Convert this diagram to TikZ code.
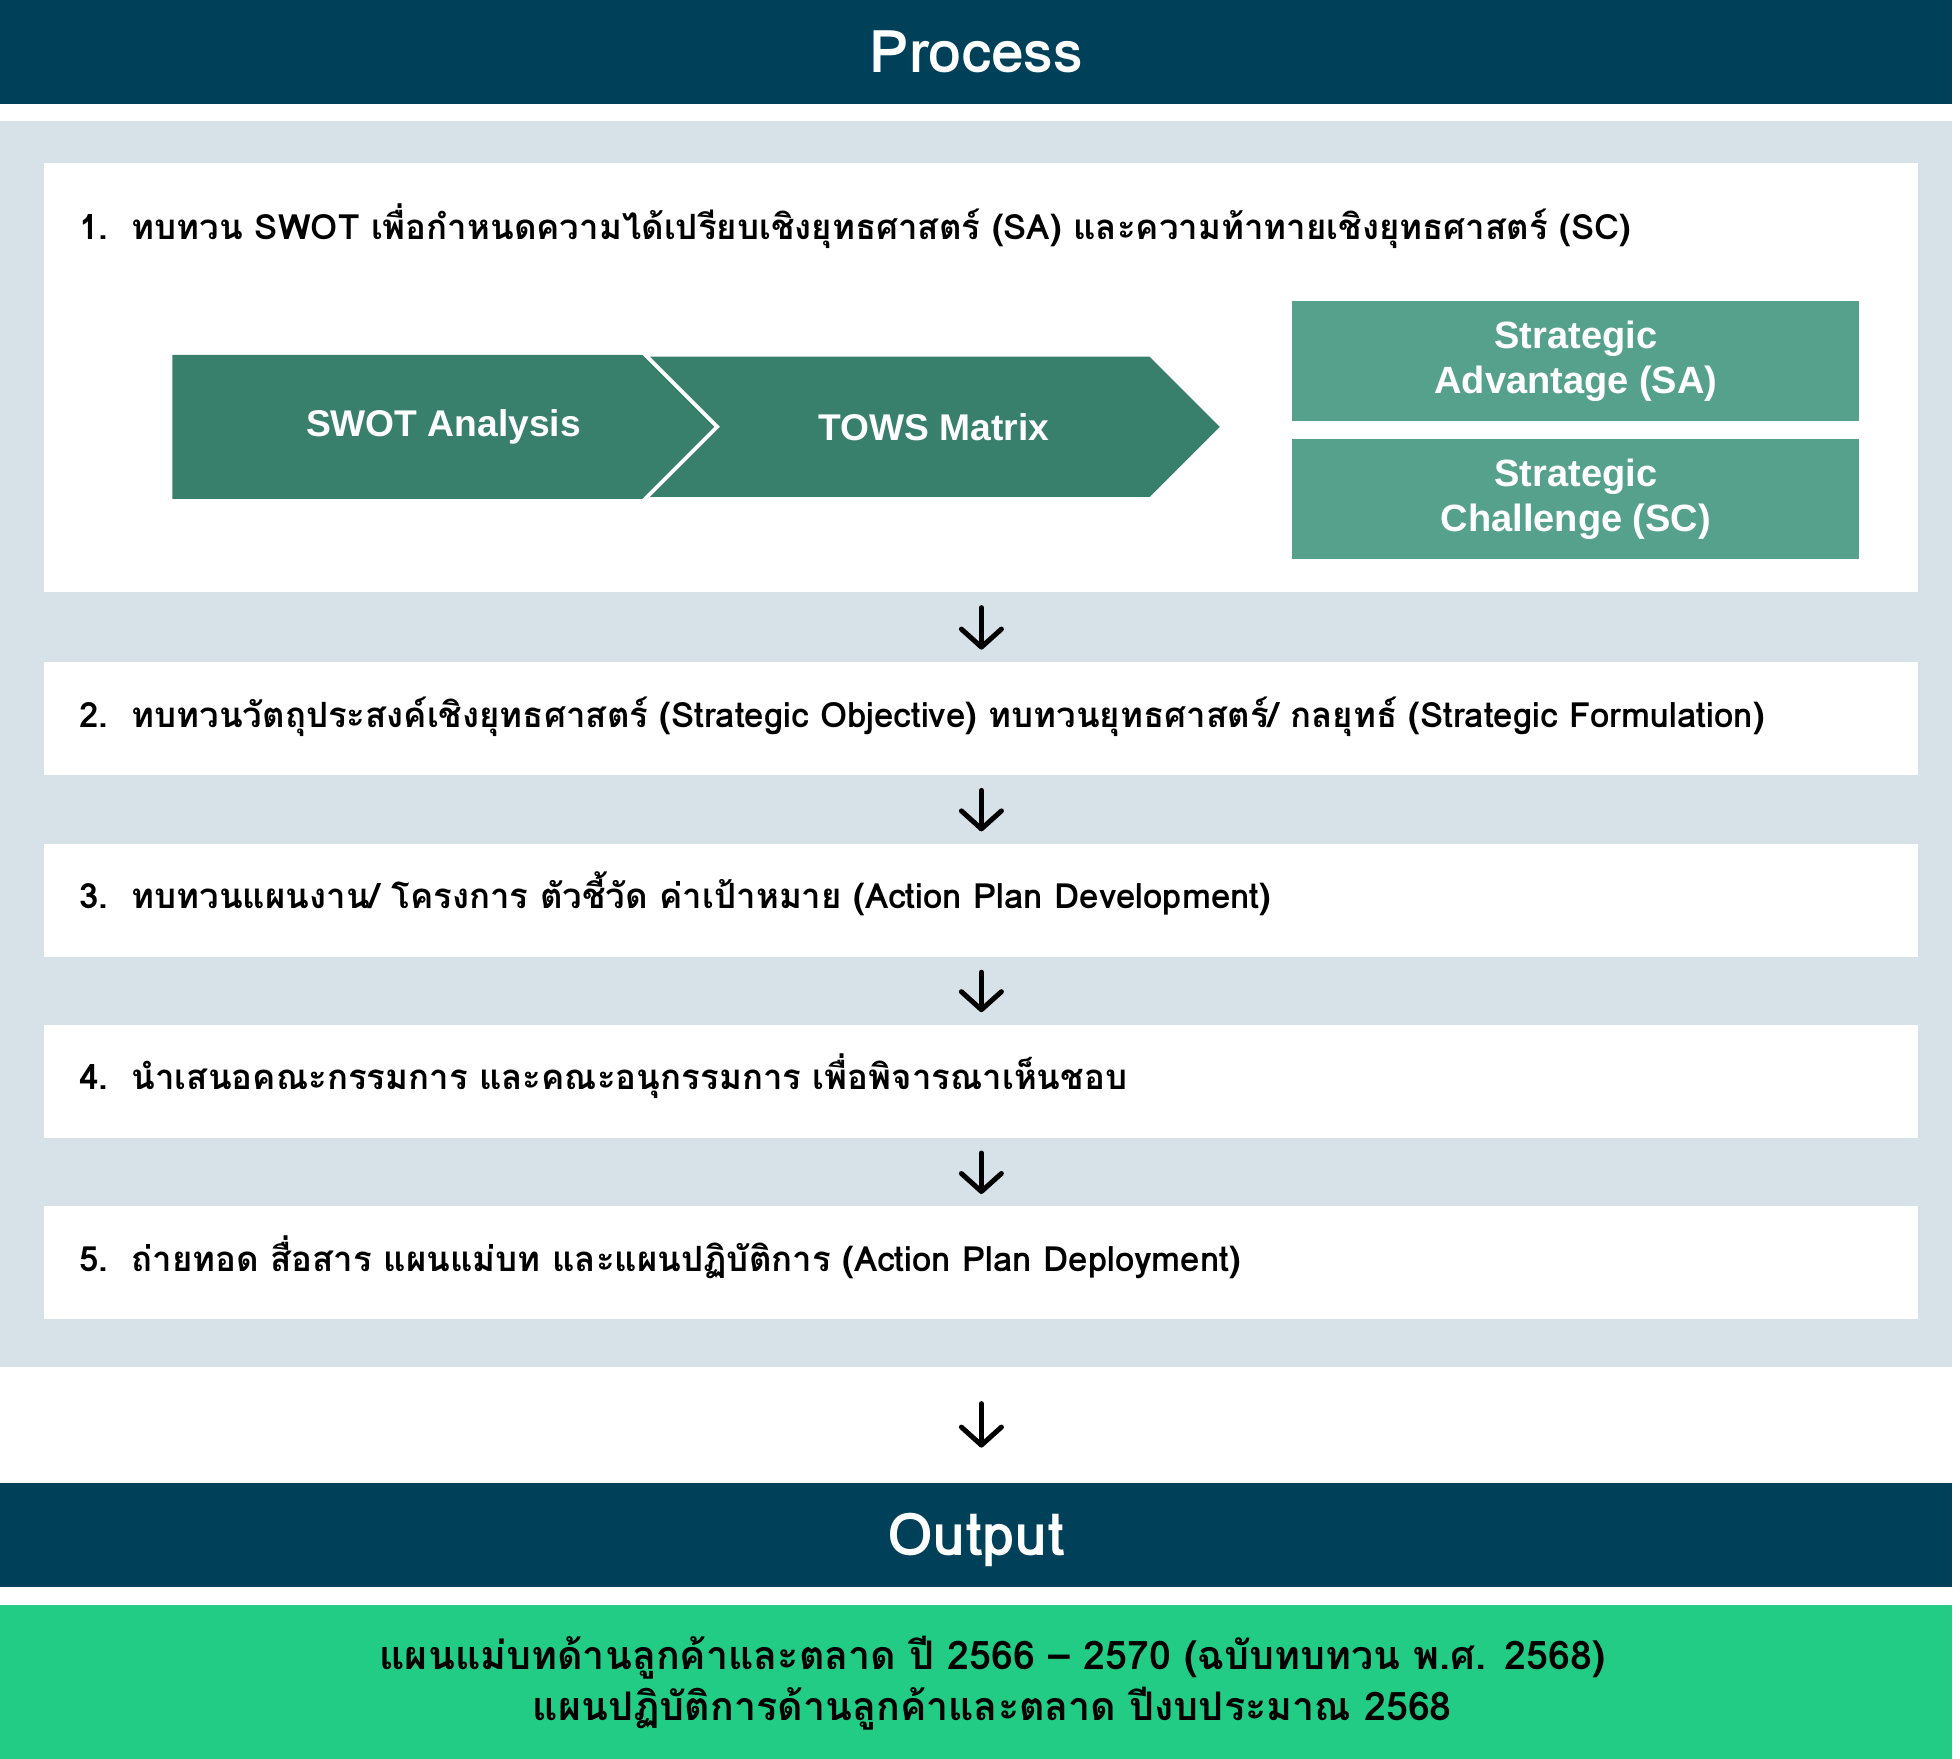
\documentclass[tikz,border=0pt]{standalone}
\usepackage{fontspec}
\setmainfont{Liberation Sans}
\newfontfamily\thaifont[Script=Thai]{Loma}
\usetikzlibrary{positioning,arrows.meta,shapes.symbols,calc}
\definecolor{cHead}{HTML}{004059}
\definecolor{cPanel}{HTML}{D7E2E8}
\definecolor{cChev}{HTML}{387F6C}
\definecolor{cStrat}{HTML}{56A18B}
\definecolor{cOut}{HTML}{22CC85}

\begin{document}
\begin{tikzpicture}[
  headbar/.style={rectangle, fill=cHead, text=white, minimum width=976pt, minimum height=52pt,
                  inner sep=0pt, text height=20pt, text depth=0pt,
                  font=\thaifont\bfseries\fontsize{29.5}{34}\selectfont},
  stepbox/.style={rectangle, fill=white, minimum width=937pt, minimum height=#1,
                  inner xsep=17.5pt, inner ysep=0pt, text width=902pt, align=left,
                  text height=8.5pt, text depth=0pt,
                  font=\thaifont\bfseries\fontsize{17.4}{21}\selectfont},
  chev/.style={signal, signal pointer angle=90, fill=cChev, text=white, minimum height=72pt,
               inner sep=0pt, font=\bfseries\fontsize{18.6}{22}\selectfont},
  stratbox/.style={rectangle, fill=cStrat, text=white, minimum width=283.5pt, minimum height=60pt,
                   align=center, inner sep=0pt, font=\bfseries\fontsize{19}{22.5}\selectfont},
  flow/.style={-{Straight Barb[length=9pt, width=20pt, round]}, line width=2.5pt, line cap=round},
]
\useasboundingbox (0,0) rectangle (980pt,-879.5pt);

% ---- Process header and panel ----
\node[headbar, anchor=north west] (process) at (0,0) {Process};
\node[rectangle, fill=cPanel, minimum width=976pt, minimum height=623pt, inner sep=0pt,
      below=8pt of process] (panel) {};

% ---- Step 1 with SWOT / TOWS ----
\node[stepbox=214.5pt, anchor=north west] (s1) at ([xshift=22pt,yshift=-21pt]panel.north west) {};
\node[anchor=base west, inner sep=0pt, font=\thaifont\bfseries\fontsize{17.4}{21}\selectfont]
  (s1text) at ([xshift=17.5pt,yshift=-38.25pt]s1.north west)
  {1.\ \ ทบทวน SWOT เพื่อกำหนดความได้เปรียบเชิงยุทธศาสตร์ (SA) และความท้าทายเชิงยุทธศาสตร์ (SC)};

\node[chev, signal to=east, minimum width=271pt, anchor=west] (swot)
  at ([xshift=64pt,yshift=-132pt]s1.north west) {};
\node[text=white, inner sep=0pt, font=\bfseries\fontsize{18.6}{22}\selectfont] (swottext)
  at ($(swot.west)!0.5!(swot.east)$) {SWOT Analysis};
\node[chev, signal from=west, signal to=east, minimum width=288.5pt, anchor=west,
      draw=white, line width=1.75pt] (tows) at (swot.east) {TOWS Matrix};

\node[stratbox, anchor=north west] (sa) at ([xshift=624pt,yshift=-69pt]s1.north west)
  {Strategic\\Advantage (SA)};
\node[stratbox, below=8.5pt of sa] (sc) {Strategic\\Challenge (SC)};

% ---- Steps 2 to 5 ----
\node[stepbox=56.5pt, below=34.5pt of s1] (s2)
  {2.\ \ ทบทวนวัตถุประสงค์เชิงยุทธศาสตร์ (Strategic Objective) ทบทวนยุทธศาสตร์/ กลยุทธ์ (Strategic Formulation)};
\node[stepbox=56.5pt, below=34pt of s2] (s3)
  {3.\ \ ทบทวนแผนงาน/ โครงการ ตัวชี้วัด ค่าเป้าหมาย (Action Plan Development)};
\node[stepbox=56.5pt, below=33.5pt of s3] (s4)
  {4.\ \ นำเสนอคณะกรรมการ และคณะอนุกรรมการ เพื่อพิจารณาเห็นชอบ};
\node[stepbox=56.5pt, below=34pt of s4] (s5)
  {5.\ \ ถ่ายทอด สื่อสาร แผนแม่บท และแผนปฏิบัติการ (Action Plan Deployment)};

% ---- Output ----
\node[headbar, below=57.5pt of panel] (output) {Output};
\node[rectangle, fill=cOut, minimum width=976pt, minimum height=78.5pt, inner sep=0pt,
      below=8.5pt of output] (plans) {};
\node[align=center, inner sep=0pt, font=\thaifont\bfseries\fontsize{19.7}{25.5}\selectfont]
  (planstext) at ([xshift=8pt]plans.center)
  {แผนแม่บทด้านลูกค้าและตลาด ปี 2566 – 2570 (ฉบับทบทวน พ.ศ. 2568)\\
   แผนปฏิบัติการด้านลูกค้าและตลาด ปีงบประมาณ 2568};

% ---- arrows ----
\foreach \a/\b in {s1/s2,s2/s3,s3/s4,s4/s5}
  \draw[flow, shorten <=7.5pt, shorten >=6pt] (\a.south) -- (\b.north);
\draw[flow, shorten <=18pt, shorten >=17.5pt] (s5.south |- panel.south) -- (s5.south |- output.north);

\end{tikzpicture}
\end{document}
